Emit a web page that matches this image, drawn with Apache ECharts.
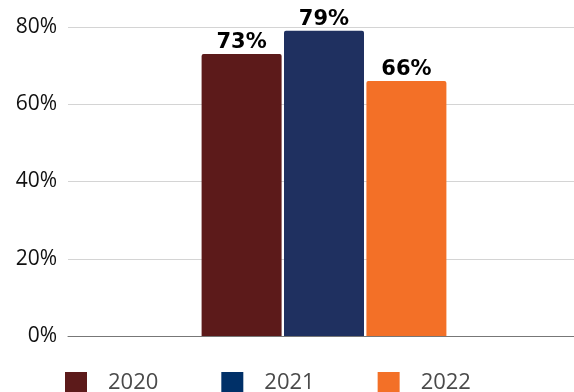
<!DOCTYPE html>
<html><head><meta charset="utf-8">
<script src="https://cdn.jsdelivr.net/npm/echarts@6/dist/echarts.min.js"></script>
<style>html,body{margin:0;padding:0;background:#fff}#c{width:574px;height:392px}</style>
</head><body><div id="c"></div>
<script>
var categories = [''];
var seriesNames = ['2020', '2021', '2022'];
var values2020 = [73];
var values2021 = [79];
var values2022 = [66];
var barColors = ['#5c1a1a', '#1f3060', '#f37027'];
var legendColors = ['#5c1a1a', '#003068', '#f37027'];
var yTicks = [0, 20, 40, 60, 80];

var chart = echarts.init(document.getElementById('c'), null, {renderer: 'canvas'});
var data = [values2020, values2021, values2022];
var series = seriesNames.map(function (n, i) {
  return {
    name: n, type: 'bar', data: data[i], barWidth: 80, barGap: '3%',
    itemStyle: {color: barColors[i], borderRadius: [2, 2, 0, 0]},
    label: {show: true, position: 'top', distance: 1, formatter: '{c}%',
      fontFamily: 'DejaVu Sans', fontWeight: 'bold', fontSize: 21, color: '#000'}
  };
});
chart.setOption({
  animation: false,
  grid: {left: 68, right: -6, top: 27, bottom: 56, outerBoundsMode: 'none', containLabel: false},
  legend: {
    left: 65, top: 372, padding: 0, itemWidth: 22, itemHeight: 22, itemGap: 63,
    icon: 'rect',
    data: seriesNames.map(function (n, i) { return {name: n, itemStyle: {color: legendColors[i]}}; }),
    textStyle: {fontFamily: 'Open Sans', fontSize: 22, color: '#4a4a4a', padding: [10, 0, 0, 16]}
  },
  xAxis: {type: 'category', data: categories,
    axisLine: {lineStyle: {color: '#777', width: 1}}, axisTick: {show: false}, axisLabel: {show: false}},
  yAxis: {type: 'value', min: yTicks[0], max: yTicks[yTicks.length - 1], interval: 20,
    axisLabel: {formatter: '{value}%', fontFamily: 'Open Sans', fontSize: 21, color: '#111', margin: 11},
    splitLine: {lineStyle: {color: '#d4d4d4'}}, axisLine: {show: false}, axisTick: {show: false}},
  series: series
});
</script></body></html>
